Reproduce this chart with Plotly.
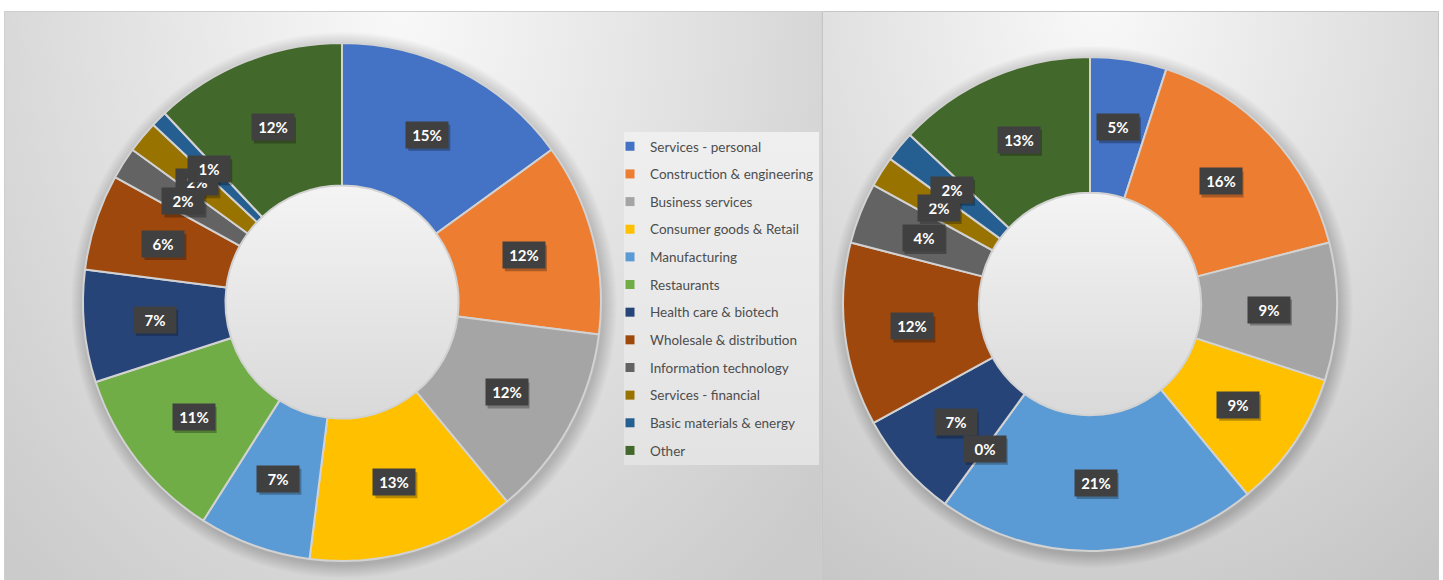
import math
import plotly.graph_objects as go

W, H = 1443, 580

# ---------------- data ----------------
categories = [
    "Services - personal", "Construction & engineering", "Business services",
    "Consumer goods & Retail", "Manufacturing", "Restaurants",
    "Health care & biotech", "Wholesale & distribution", "Information technology",
    "Services - financial", "Basic materials & energy", "Other",
]
left_values = [15, 12, 12, 13, 7, 11, 7, 6, 2, 2, 1, 12]
right_values = [5, 16, 9, 9, 21, 0, 7, 12, 4, 2, 2, 13]
colors = [
    "#4472C4", "#ED7D31", "#A5A5A5", "#FFC000", "#5B9BD5", "#70AD47",
    "#264478", "#9E480E", "#636363", "#997300", "#255E91", "#43682B",
]

# ---------------- geometry (pixels) ----------------
LEFT = dict(cx=342, cy=302, r=259, hole=0.45, xa="x", ya="y")
RIGHT = dict(cx=1090, cy=304, r=247, hole=0.45, xa="x2", ya="y2")
TOP = 11
FONT = "Lato, 'Open Sans', sans-serif"
BOX_W, BOX_H = 42, 26

fig = go.Figure()


def circle(cx, cy, r, n=240):
    xs, ys = [], []
    for k in range(n + 1):
        a = 2 * math.pi * k / n
        xs.append(cx + r * math.cos(a))
        ys.append(cy + r * math.sin(a))
    return xs, ys


def bg_rect(cx, cy, rx, ry, xa, ya, c0, c1):
    fig.add_trace(go.Scatter(
        x=[cx - rx, cx + rx, cx + rx, cx - rx, cx - rx],
        y=[cy - ry, cy - ry, cy + ry, cy + ry, cy - ry],
        fill="toself", mode="none", xaxis=xa, yaxis=ya,
        fillgradient=dict(type="radial", colorscale=[[0, c0], [1, c1]]),
        showlegend=False, hoverinfo="skip"))


# panel backgrounds
bg_rect(400, 0, 560, 760, "x", "y", "#f9f9f9", "#cbcbcb")
bg_rect(1100, 0, 600, 720, "x2", "y2", "#f9f9f9", "#c3c3c3")

# legend box
fig.add_trace(go.Scatter(
    x=[624, 819, 819, 624, 624], y=[132, 132, 465, 465, 132],
    fill="toself", mode="none", xaxis="x", yaxis="y",
    fillgradient=dict(type="vertical", colorscale=[[0, "#efefef"], [1, "#e3e3e3"]],
                      start=132, stop=465),
    showlegend=False, hoverinfo="skip"))

# donut shadows and hole shading
for P in (LEFT, RIGHT):
    for k in range(1, 15):
        xs, ys = circle(P["cx"] + 2, P["cy"] + 3, P["r"] + k)
        fig.add_trace(go.Scatter(x=xs, y=ys, fill="toself", mode="none",
                                 fillcolor="rgba(0,0,0,0.013)",
                                 xaxis=P["xa"], yaxis=P["ya"],
                                 showlegend=False, hoverinfo="skip"))
    rh = P["r"] * P["hole"]
    xs, ys = circle(P["cx"], P["cy"], rh + 1)
    fig.add_trace(go.Scatter(x=xs, y=ys, fill="toself", mode="none",
                             xaxis=P["xa"], yaxis=P["ya"],
                             fillgradient=dict(type="vertical",
                                               colorscale=[[0, "#f4f4f4"], [1, "#d9d9d9"]],
                                               start=P["cy"] - rh, stop=P["cy"] + rh),
                             showlegend=False, hoverinfo="skip"))

# legend entries
for cat, c in zip(categories, colors):
    fig.add_trace(go.Scatter(x=[None], y=[None], mode="markers", name=cat,
                             legendgroup=cat, xaxis="x", yaxis="y",
                             marker=dict(symbol="square", size=9, color=c)))


def pie_domain(P):
    return dict(x=[(P["cx"] - P["r"]) / W, (P["cx"] + P["r"]) / W],
                y=[1 - (P["cy"] + P["r"]) / H, 1 - (P["cy"] - P["r"]) / H])


annotations = []
shapes = []
for P, vals in ((LEFT, left_values), (RIGHT, right_values)):
    fig.add_trace(go.Pie(
        labels=categories, values=vals, sort=False, direction="clockwise",
        rotation=0, hole=P["hole"], domain=pie_domain(P),
        marker=dict(colors=colors, line=dict(color="#d2d2d2", width=2)),
        textinfo="none", showlegend=False, hoverinfo="label+percent"))
    total = sum(vals)
    rm = P["r"] * (1 + P["hole"]) / 2
    cum = 0
    for v in vals:
        a = 2 * math.pi * (cum + v / 2) / total
        cum += v
        x = P["cx"] + rm * math.sin(a)
        y = P["cy"] - rm * math.cos(a)
        # drop shadow of the label box
        shapes.append(dict(type="rect", xref=P["xa"], yref=P["ya"],
                           x0=x - BOX_W / 2 + 2, x1=x + BOX_W / 2 + 2,
                           y0=y - BOX_H / 2 + 3, y1=y + BOX_H / 2 + 3,
                           fillcolor="rgba(0,0,0,0.28)", line=dict(width=0),
                           layer="above"))
        annotations.append(dict(x=x, y=y, xref=P["xa"], yref=P["ya"], showarrow=False,
                                width=BOX_W, height=BOX_H, borderpad=0,
                                text=f"{round(100 * v / total)}%", bgcolor="#404040",
                                font=dict(family=FONT, size=15, color="white",
                                          weight="bold")))

shapes += [
    dict(type="rect", xref="x", yref="y", x0=4.5, x1=822, y0=TOP + 0.5, y1=590,
         line=dict(color="#cfcfcf", width=1), layer="above"),
    dict(type="rect", xref="x2", yref="y2", x0=822.5, x1=1438.5, y0=TOP + 0.5, y1=590,
         line=dict(color="#c6c6c6", width=1), layer="above"),
]

ydom = [0, (H - TOP) / H]
fig.update_layout(
    width=W, height=H, margin=dict(l=0, r=0, t=0, b=0),
    paper_bgcolor="white", plot_bgcolor="rgba(0,0,0,0)",
    xaxis=dict(domain=[4 / W, 822 / W], range=[4, 822], visible=False, fixedrange=True),
    yaxis=dict(domain=ydom, range=[580, TOP], visible=False, fixedrange=True),
    xaxis2=dict(domain=[822 / W, 1439 / W], range=[822, 1439], visible=False,
                fixedrange=True, anchor="y2"),
    yaxis2=dict(domain=ydom, range=[580, TOP], visible=False, fixedrange=True,
                anchor="x2"),
    showlegend=True,
    legend=dict(x=610 / W, y=1 - 131 / H, xanchor="left", yanchor="top",
                traceorder="grouped", tracegroupgap=7.1, bgcolor="rgba(0,0,0,0)",
                font=dict(family=FONT, size=13.5, color="#4d4d4d"),
                itemclick=False, itemdoubleclick=False),
    annotations=annotations, shapes=shapes,
)

fig.write_html("out.html", config={"displayModeBar": False},
               post_script="document.body.style.margin='0';document.body.style.overflow='hidden';")
